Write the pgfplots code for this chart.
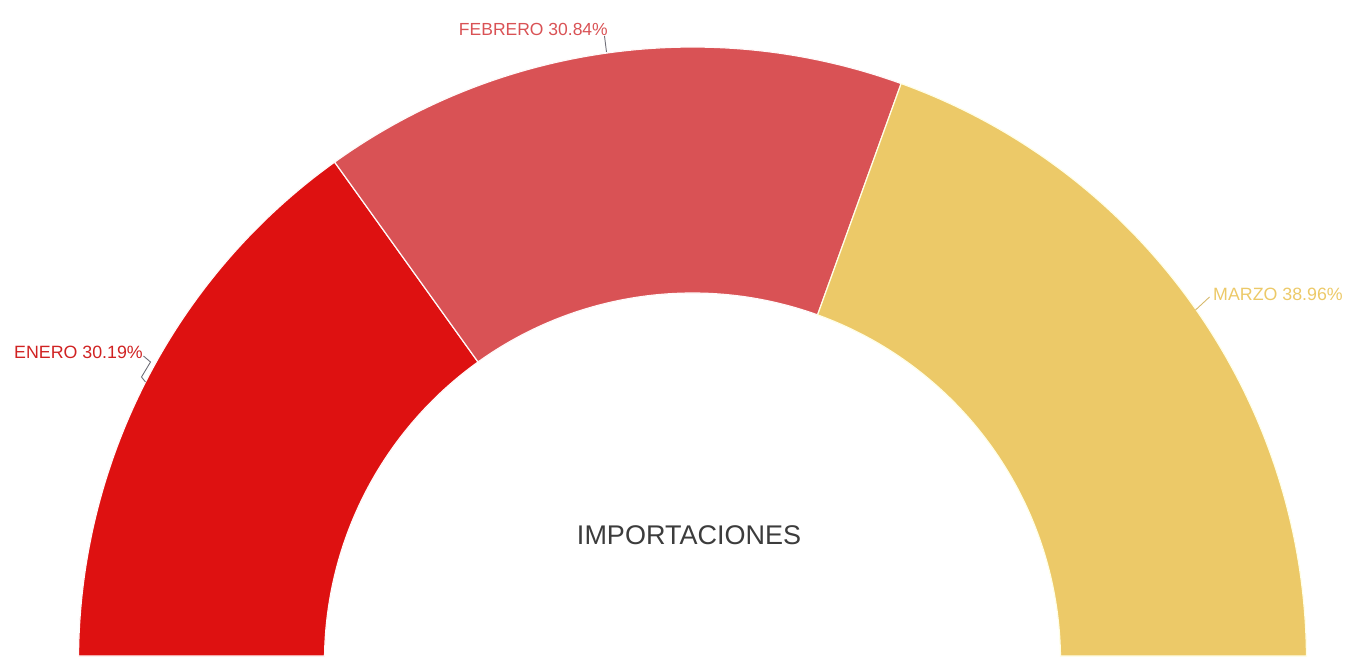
\documentclass[border=0pt]{standalone}
\usepackage{pgfplots}
\usepackage{pgfplotstable}
\pgfplotsset{compat=1.18}
\usepackage{fontspec}
\setmainfont{Liberation Sans}
\definecolor{cEne}{RGB}{222,17,17}
\definecolor{cFeb}{RGB}{217,82,85}
\definecolor{cMar}{RGB}{236,201,104}
\definecolor{cTxt}{RGB}{60,60,60}
\definecolor{cLine}{RGB}{110,110,120}
\pgfplotstableread{
mes pct
ENERO 30.19
FEBRERO 30.84
MARZO 38.96
}\datos
\begin{document}
\begin{tikzpicture}
\pgfplotstablegetelem{0}{pct}\of\datos \let\pA\pgfplotsretval
\pgfplotstablegetelem{1}{pct}\of\datos \let\pB\pgfplotsretval
\pgfplotstablegetelem{2}{pct}\of\datos \let\pC\pgfplotsretval
\pgfmathsetmacro\tot{\pA+\pB+\pC}
\pgfmathsetmacro\aA{180-180*\pA/\tot}
\pgfmathsetmacro\aB{\aA-180*\pB/\tot}
\pgfmathsetmacro\Ro{614}
\pgfmathsetmacro\Ri{368}
\begin{axis}[
  x=1pt, y=1pt,
  xmin=-692.5, xmax=655.5,
  ymin=5, ymax=661,
  hide axis,
  clip=true,
]
\path (axis cs:-692.5,5) rectangle (axis cs:655.5,661);
\fill[cEne, draw=white!90!pink, line width=1.2pt]
  (axis cs:{-\Ro},5) -- (axis cs:{-sqrt(\Ro*\Ro-25)},5) arc[start angle={180-asin(5/\Ro)}, end angle=\aA, radius=\Ro]
  -- (axis cs:{\Ri*cos(\aA)},{\Ri*sin(\aA)}) arc[start angle=\aA, end angle={180-asin(5/\Ri)}, radius=\Ri] -- cycle;
\fill[cFeb, draw=white!90!pink, line width=1.2pt]
  (axis cs:{\Ro*cos(\aA)},{\Ro*sin(\aA)}) arc[start angle=\aA, end angle=\aB, radius=\Ro]
  -- (axis cs:{\Ri*cos(\aB)},{\Ri*sin(\aB)}) arc[start angle=\aB, end angle=\aA, radius=\Ri] -- cycle;
\fill[cMar, draw=white!90!yellow, line width=1.2pt]
  (axis cs:{\Ro*cos(\aB)},{\Ro*sin(\aB)}) arc[start angle=\aB, end angle={asin(5/\Ro)}, radius=\Ro]
  -- (axis cs:{sqrt(\Ri*\Ri-25)},5) arc[start angle={asin(5/\Ri)}, end angle=\aB, radius=\Ri] -- cycle;
% leader lines
\draw[cLine, line width=0.9pt] (axis cs:-88,625) -- (axis cs:-86,609);
\draw[cLine, line width=0.9pt] (axis cs:-549,305) -- (axis cs:-542,299) -- (axis cs:-551,284) -- (axis cs:-547,279);
\draw[cMar!80!gray, line width=0.9pt] (axis cs:503,351) -- (axis cs:517,364);
% labels
\node[anchor=east, inner sep=0pt, text=cFeb, font=\fontsize{17.5}{20}\selectfont] at (axis cs:-84.5,632) {FEBRERO 30.84\%};
\node[anchor=east, inner sep=0pt, text=cEne!85!gray, font=\fontsize{17.8}{20}\selectfont] at (axis cs:-549.5,309) {ENERO 30.19\%};
\node[anchor=west, inner sep=0pt, text=cMar, font=\fontsize{17.8}{20}\selectfont] at (axis cs:520.5,367) {MARZO 38.96\%};
\node[text=cTxt, inner sep=0pt, font=\fontsize{27}{30}\selectfont] at (axis cs:-3.5,126) {IMPORTACIONES};
\end{axis}
\end{tikzpicture}
\end{document}
